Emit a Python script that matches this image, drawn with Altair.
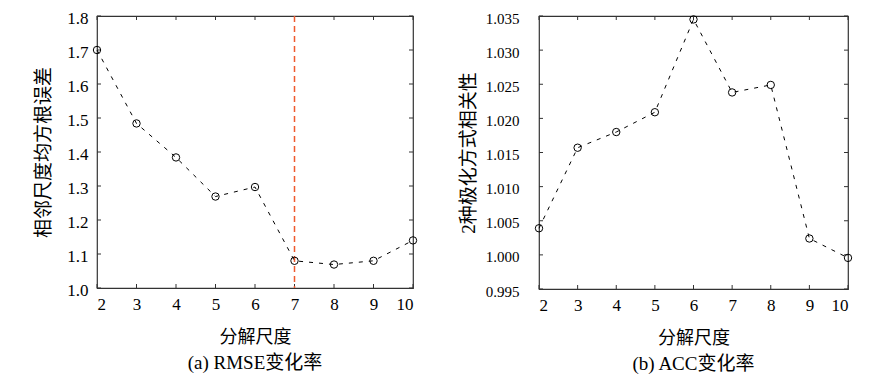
import altair as alt
import pandas as pd

scales = [2, 3, 4, 5, 6, 7, 8, 9, 10]
rmse = [1.700, 1.484, 1.384, 1.269, 1.297, 1.080, 1.069, 1.080, 1.140]
acc = [1.0039, 1.0157, 1.0180, 1.0209, 1.0345, 1.0238, 1.0249, 1.0024, 0.99956]

rmse_ticks = [1.0, 1.1, 1.2, 1.3, 1.4, 1.5, 1.6, 1.7, 1.8]
acc_ticks = [0.995, 1.000, 1.005, 1.010, 1.015, 1.020, 1.025, 1.030, 1.035]
x_ticks = [2, 3, 4, 5, 6, 7, 8, 9, 10]
best_scale = [7]

x_title = "分解尺度"
left_ytitle = "相邻尺度均方根误差"
right_ytitle = "2种极化方式相关性"
left_caption = "(a) RMSE变化率"
right_caption = "(b) ACC变化率"

FONT = "Liberation Serif, Noto Sans CJK SC"
TICK = 4
AXC = "#333333"


def panel(values, yticks, ydom, yfmt, ytitle, caption, w, h, lpad, tpad, lfs, red=None):
    xs = alt.Scale(domain=[2, 10], nice=False, zero=False)
    ys = alt.Scale(domain=ydom, nice=False, zero=False)
    xaxis = alt.Axis(values=x_ticks, format="d", title=x_title, labelPadding=8, titlePadding=16)
    yaxis = alt.Axis(values=yticks, format=yfmt, title=ytitle, labelPadding=lpad, titlePadding=tpad,
                     labelFontSize=lfs, labelOffset=2, titleFontSize=19)

    def X(f):
        return alt.X(f, type="quantitative", scale=xs, axis=xaxis)

    def Y(f):
        return alt.Y(f, type="quantitative", scale=ys, axis=yaxis)

    df = pd.DataFrame({"s": scales, "v": values})
    line = alt.Chart(df).mark_line(color="black", strokeWidth=1, strokeDash=[4, 6]).encode(x=X("s"), y=Y("v"))
    pts = alt.Chart(df).mark_point(filled=False, color="black", size=55, strokeWidth=1, opacity=1).encode(x=X("s"), y=Y("v"))

    ydf = pd.DataFrame({"t": yticks})
    xdf = pd.DataFrame({"t": x_ticks})
    yl = alt.Chart(ydf).mark_rule(color=AXC).encode(y=Y("t"), x=alt.value(0), x2=alt.value(TICK))
    yr = alt.Chart(ydf).mark_rule(color=AXC).encode(y=Y("t"), x=alt.value(w - TICK), x2=alt.value(w))
    xb = alt.Chart(xdf).mark_rule(color=AXC).encode(x=X("t"), y=alt.value(h - TICK), y2=alt.value(h))
    xt = alt.Chart(xdf).mark_rule(color=AXC).encode(x=X("t"), y=alt.value(0), y2=alt.value(TICK))

    layers = [yl, yr, xb, xt]
    if red is not None:
        rdf = pd.DataFrame({"s": red})
        layers.append(alt.Chart(rdf).mark_rule(stroke="#EE5A2E", color="#EE5A2E", strokeWidth=1.5,
                                               strokeDash=[6, 4], opacity=1).encode(x=X("s")))
    layers += [line, pts]
    return alt.layer(*layers).properties(
        width=w, height=h,
        title=alt.TitleParams(caption, orient="bottom", frame="group", anchor="middle",
                              fontSize=19, font=FONT, fontWeight="normal", offset=8, color="black"),
    )


left = panel(rmse, rmse_ticks, [1.0, 1.8], ".1f", left_ytitle, left_caption, 316, 272, 9, 13, 17, red=best_scale)
right = panel(acc, acc_ticks, [0.995, 1.035], ".3f", right_ytitle, right_caption, 309, 273, 20, 7, 15)

chart = alt.hconcat(left, right, spacing=38, padding={"left": 26, "top": 0, "right": 5, "bottom": 5}).configure_view(
    stroke=AXC, strokeWidth=1.2
).configure_axis(
    ticks=False, domain=False, grid=False,
    labelFont=FONT, labelFontSize=17, labelColor="black",
    titleFont=FONT, titleFontSize=18, titleFontWeight="normal", titleColor="black",
)

chart.save("out.html", embed_options={"renderer": "svg", "actions": False})
